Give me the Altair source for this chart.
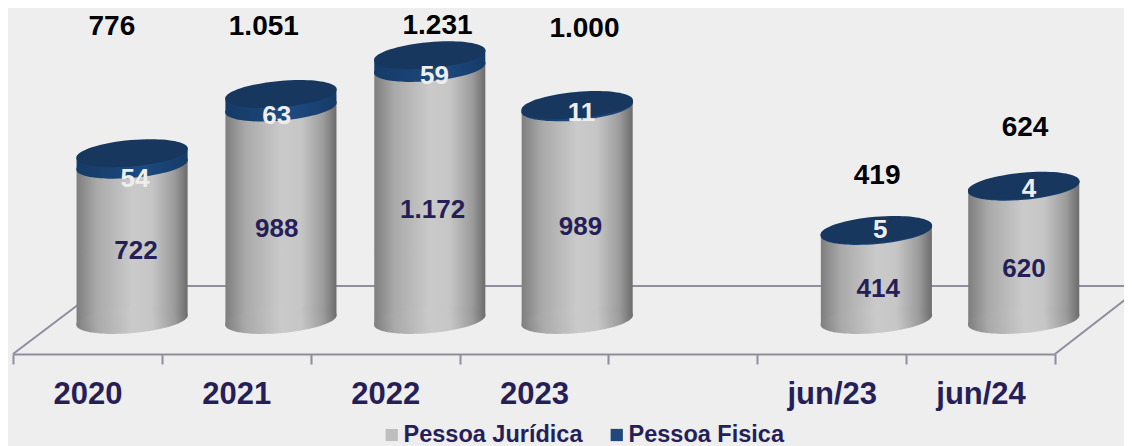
import altair as alt
import pandas as pd

categories = ["2020", "2021", "2022", "2023", " ", "jun/23", "jun/24"]
bar_pos = [0.3, 1.3, 2.3, 3.29, 5.3, 6.29]
juridica = [722, 988, 1172, 989, 414, 620]
fisica = [54, 63, 59, 11, 5, 4]
totals = [776, 1051, 1231, 1000, 419, 624]
total_text = ["776", "1.051", "1.231", "1.000", "419", "624"]
juridica_text = ["722", "988", "1.172", "989", "414", "620"]
fisica_text = ["54", "63", "59", "11", "5", "4"]
series = ["Pessoa Jurídica", "Pessoa Fisica"]

total_x = [0.164, 1.185, 2.352, 3.339, 5.305, 6.299]
total_y = [1362, 1362, 1368, 1353, 669, 893]
jur_x = [0.326, 1.272, 2.319, 3.312, 5.312, 6.292]
jur_y = [321, 423, 511, 432, 144, 237]
fis_x = [0.319, 1.272, 2.332, 3.319, 5.326, 6.326]
fis_y = [655, 948, 1135, 962, 418, 609]

HALF = 0.373
TILT = 23
FONT = "Liberation Sans"
NAVY = "#261F57"
LINE = "#8F8D9E"
ELLIPSE = "M-1,0 A1,0.234 0 1 1 1,0 A1,0.234 0 1 1 -1,0 Z"
ELLIPSE_SIZE = 12544

qx = alt.Scale(domain=[-0.5, 6.5], nice=False, zero=False)
qy = alt.Scale(domain=[-158, 1451], nice=False, zero=False)

grey_grad = alt.Gradient(gradient="linear", x1=0, x2=1, y1=0, y2=0, stops=[
    alt.GradientStop(offset=0, color="#7E7E7E"),
    alt.GradientStop(offset=0.18, color="#A9A9A9"),
    alt.GradientStop(offset=0.5, color="#CACACA"),
    alt.GradientStop(offset=0.68, color="#C6C6C6"),
    alt.GradientStop(offset=0.88, color="#9C9C9C"),
    alt.GradientStop(offset=1, color="#6C6C6C"),
])
blue_grad = alt.Gradient(gradient="linear", x1=0, x2=1, y1=0, y2=0, stops=[
    alt.GradientStop(offset=0, color="#153A66"),
    alt.GradientStop(offset=0.6, color="#1D4A80"),
    alt.GradientStop(offset=1, color="#153A66"),
])

cyl = pd.DataFrame({"pos": bar_pos, "jur": juridica, "fis": fisica, "tot": totals,
                    "base": [0] * 6})

rows = []
for p, j, t in zip(bar_pos, juridica, totals):
    rows.append({"key": p, "x": p - HALF, "b0": -TILT, "b1": j - TILT, "t0": j - TILT, "t1": t - TILT})
    rows.append({"key": p, "x": p + HALF, "b0": TILT, "b1": j + TILT, "t0": j + TILT, "t1": t + TILT})
sides = pd.DataFrame(rows)

floor = pd.DataFrame({
    "x": [0.104, -0.5, 6.5],
    "x2": [7.01, 0.104, 7.01],
    "y": [158, -158, -158],
    "y2": [158, 158, 116],
})

X = alt.X("pos:Q", scale=qx, axis=None)
Y = lambda f: alt.Y(f, type="quantitative", scale=qy, axis=None)

hidden = alt.Chart(pd.DataFrame({
    "cat": categories,
    "s": [series[i % 2] for i in range(len(categories))],
})).mark_bar(opacity=0).encode(
    x=alt.X("cat:N", sort=categories, title=None,
            scale=alt.Scale(domain=categories, paddingInner=0, paddingOuter=0),
            axis=alt.Axis(tickBand="extent", labelAngle=0, labelFont=FONT, labelFontWeight="bold",
                          labelFontSize=31, labelColor=NAVY, labelPadding=15, tickSize=10, tickWidth=2,
                          tickColor=LINE, domainColor=LINE, domainWidth=2, grid=False)),
    color=alt.Color("s:N", scale=alt.Scale(domain=series, range=["#BEBEBE", "#1F497D"]),
                    legend=alt.Legend(title=None, orient="none", legendX=367, legendY=412, direction="horizontal",
                                      columns=2, columnPadding=22, padding=0, symbolType="square", symbolSize=150,
                                      symbolOpacity=1, symbolStrokeWidth=0, labelOffset=0, labelFont=FONT,
                                      labelFontWeight="bold", labelFontSize=23.5, labelColor=NAVY,
                                      labelOpacity=1, clipHeight=30, labelLimit=300)),
)

floor_l = alt.Chart(floor).mark_rule(color=LINE, strokeWidth=2).encode(
    x=alt.X("x:Q", scale=qx, axis=None), x2="x2:Q",
    y=alt.Y("y:Q", scale=qy, axis=None), y2="y2:Q")

body = alt.Chart(sides).mark_area(fill=grey_grad, clip=False).encode(
    x=alt.X("x:Q", scale=qx, axis=None), y=Y("b1"), y2="b0:Q", detail="key:N")
band = alt.Chart(sides).mark_area(fill=blue_grad).encode(
    x=alt.X("x:Q", scale=qx, axis=None), y=Y("t1"), y2="t0:Q", detail="key:N")


def ellipse(field, fill):
    return alt.Chart(cyl).mark_point(filled=True, fill=fill, shape=ELLIPSE, size=ELLIPSE_SIZE,
                                     angle=354.9, opacity=1, strokeWidth=0).encode(x=X, y=Y(field))


def labels(xs, ys, texts, color, size):
    df = pd.DataFrame({"x": xs, "y": ys, "t": texts})
    return alt.Chart(df).mark_text(font=FONT, fontWeight="bold", fontSize=size, color=color,
                                   baseline="middle", align="center").encode(
        x=alt.X("x:Q", scale=qx, axis=None), y=alt.Y("y:Q", scale=qy, axis=None), text="t:N")


chart = alt.layer(
    hidden,
    floor_l,
    body,
    ellipse("base", grey_grad),
    ellipse("jur", blue_grad),
    band,
    ellipse("tot", "#17375E"),
    labels(jur_x, jur_y, juridica_text, NAVY, 26),
    labels(fis_x, fis_y, fisica_text, "#EEEEEE", 26),
    labels(total_x, total_y, total_text, "#000000", 28),
).resolve_scale(x="independent").properties(
    width=1042, height=346, background="#EEEEEE",
    autosize=alt.AutoSizeParams(type="none"),
    padding={"left": 5, "right": 69, "top": 0, "bottom": 92},
).configure_view(stroke=None)

chart.save("out.html", embed_options={"renderer": "svg", "actions": False})
